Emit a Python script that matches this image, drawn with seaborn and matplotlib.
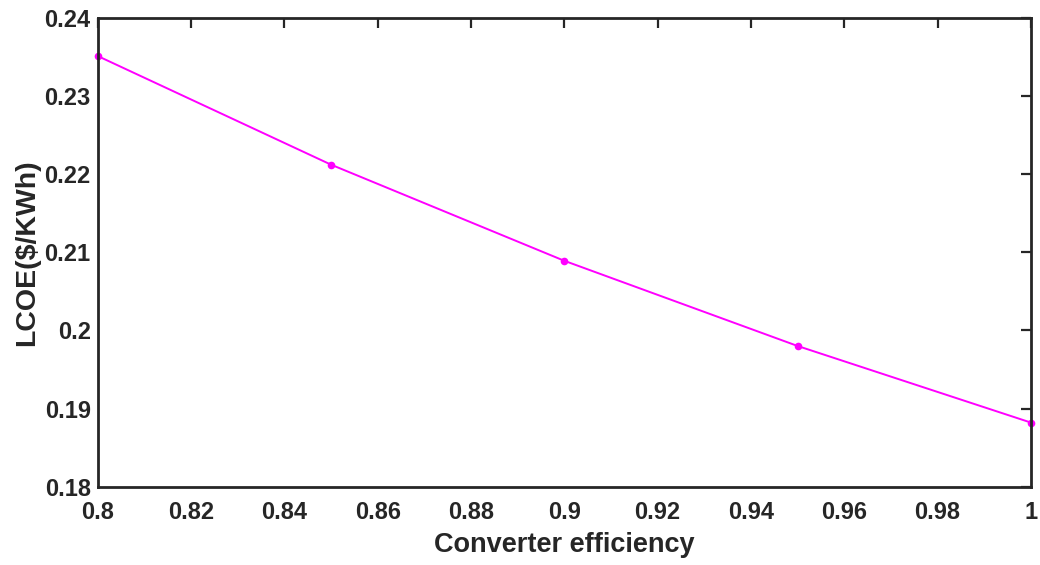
import matplotlib
matplotlib.use("Agg")
import matplotlib.pyplot as plt
import seaborn as sns
import pandas as pd

efficiency = [0.80, 0.85, 0.90, 0.95, 1.00]
lcoe = [0.2351, 0.2212, 0.2089, 0.1980, 0.1882]

x_ticks = [0.8, 0.82, 0.84, 0.86, 0.88, 0.9, 0.92, 0.94, 0.96, 0.98, 1.0]
x_labels = ["0.8", "0.82", "0.84", "0.86", "0.88", "0.9", "0.92", "0.94", "0.96", "0.98", "1"]
y_ticks = [0.18, 0.19, 0.2, 0.21, 0.22, 0.23, 0.24]
y_labels = ["0.18", "0.19", "0.2", "0.21", "0.22", "0.23", "0.24"]

sns.set_style("white")
plt.rcParams["font.family"] = ["Liberation Sans", "DejaVu Sans"]
plt.rcParams["font.weight"] = "bold"

df = pd.DataFrame({"eff": efficiency, "lcoe": lcoe})

fig = plt.figure(figsize=(10.4, 5.65), dpi=100)
ax = fig.add_axes([0.0939, 0.1386, 0.8974, 0.8301])

sns.lineplot(data=df, x="eff", y="lcoe", ax=ax, color="#ff00ff", linewidth=1.4,
             marker="o", markersize=5.5, markeredgewidth=0, clip_on=False)

ax.set_xlim(0.8, 1.0)
ax.set_ylim(0.18, 0.24)
ax.set_xticks(x_ticks)
ax.set_xticklabels(x_labels)
ax.set_yticks(y_ticks)
ax.set_yticklabels(y_labels)

dark = "#262626"
for s in ax.spines.values():
    s.set_visible(True)
    s.set_color(dark)
    s.set_linewidth(2.0)

ax.tick_params(axis="both", which="both", direction="in", length=7.5, width=1.6,
               colors=dark, labelsize=17, top=True, right=True)
ax.tick_params(axis="x", pad=10)
ax.tick_params(axis="y", pad=5)
for lab in ax.get_xticklabels() + ax.get_yticklabels():
    lab.set_fontweight("bold")

ax.set_xlabel("Converter efficiency", fontsize=19.5, fontweight="bold", color=dark, labelpad=6)
ax.set_ylabel("LCOE($/KWh)", fontsize=20.5, fontweight="bold", color=dark, labelpad=3)

fig.savefig("out.png", dpi=100, facecolor="white")
